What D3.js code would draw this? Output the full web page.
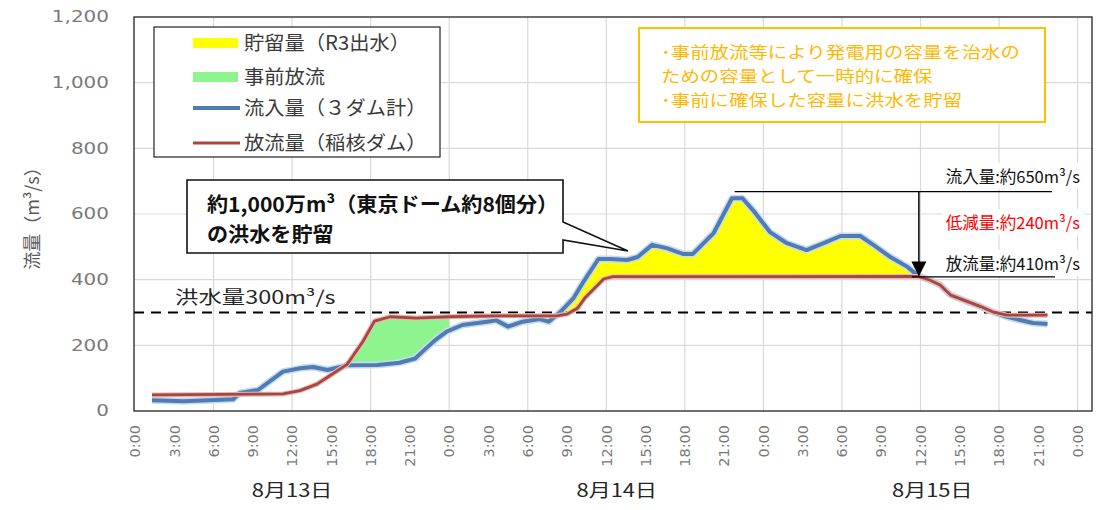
<!DOCTYPE html>
<html><head><meta charset="utf-8">
<script src="https://cdn.jsdelivr.net/npm/d3@7/dist/d3.min.js"></script>
<style>body{margin:0;background:#fff;} svg{display:block;}</style>
</head><body>
<svg id="chart" width="1100" height="510"></svg>
<script>
// ---------------- data ----------------
const yTicks = [0, 200, 400, 600, 800, 1000, 1200];
const xTickHours = [0,3,6,9,12,15,18,21,24,27,30,33,36,39,42,45,48,51,54,57,60,63,66,69,72];
const xTickLabels = ["0:00","3:00","6:00","9:00","12:00","15:00","18:00","21:00",
                     "0:00","3:00","6:00","9:00","12:00","15:00","18:00","21:00",
                     "0:00","3:00","6:00","9:00","12:00","15:00","18:00","21:00","0:00"];
const gridHours = [6,12,18,24,30,36,42,48,54,60,66,72];
const dayLabels = ["8月13日", "8月14日", "8月15日"];
const dayLabelHours = [12, 36.8, 60.9];

// [hour from 8/13 0:00, m3/s]
const inflow = [[1.3,33],[3.7,30],[7.5,36],[8.0,55],[9.4,64],[11.3,120],[12.6,130],[13.6,134],
  [14.7,125],[16.2,139],[18.5,140],[20.2,147],[21.4,160],[22.2,190],[22.9,215],[23.8,242],
  [25.0,262],[26.9,272],[27.6,276],[28.5,257],[29.6,272],[30.9,280],[31.6,272],[32.5,302],
  [33.5,344],[34.2,390],[35.4,463],[36.3,463],[37.6,460],[38.4,469],[39.5,506],[40.6,496],
  [41.9,478],[42.6,478],[44.2,542],[45.6,648],[46.4,648],[47.2,612],[48.5,545],[49.8,511],
  [51.3,490],[52.6,511],[53.9,533],[55.4,533],[56.4,506],[57.7,469],[59.0,439],[59.8,412],
  [60.7,399],[61.5,384],[62.3,353],[63.6,333],[64.6,318],[65.5,302],[66.6,287],[67.6,277],
  [68.6,268],[69.7,265]];
const outflow = [[1.3,49],[11.3,52],[12.6,62],[13.9,82],[14.9,108],[16.2,142],[17.4,211],
  [18.3,274],[19.5,287],[21.5,283],[23.9,287],[27.7,290],[32.2,290],[33.0,295],[33.8,313],
  [34.4,346],[35.8,402],[36.5,409],[59.8,410],[60.7,399],[61.5,384],[62.3,353],[63.6,333],
  [64.6,318],[65.5,302],[66.6,292],[69.7,292]];
const floodLevel = 300;
const prereleaseRange = [14, 24];   // hours
const storageRange = [30, 62];      // hours
const peakInflow = 650, peakOutflow = 410, peakHour = 59.8;

const legendLabels = ["貯留量（R3出水）", "事前放流", "流入量（３ダム計）", "放流量（稲核ダム）"];
const noteLines = ["･事前放流等により発電用の容量を治水の", "ための容量として一時的に確保", "･事前に確保した容量に洪水を貯留"];
const calloutLines = ["約1,000万m³（東京ドーム約8個分）", "の洪水を貯留"];
const annLabels = ["流入量:約650m³/s", "低減量:約240m³/s", "放流量:約410m³/s"];

// ---------------- setup ----------------
const svg = d3.select("#chart");
const JP = "'Noto Sans CJK JP','Noto Sans',sans-serif";
const x = d3.scaleLinear().domain([0, 73.1]).range([135, 1092]);
const y = d3.scaleLinear().domain([0, 1200]).range([411, 17]);
const plotL = 134, plotR = 1092, plotT = 17, plotB = 411;

function stretch(sel, k) {
  sel.each(function () {
    const w = this.getComputedTextLength();
    d3.select(this).attr("textLength", w * k).attr("lengthAdjust", "spacingAndGlyphs");
  });
}

const defs = svg.append("defs");

// gridlines
const grid = svg.append("g");
grid.selectAll("line.h").data(yTicks.filter(v => v > 0 && v < 1200)).join("line")
  .attr("x1", plotL).attr("x2", plotR).attr("y1", d => y(d)).attr("y2", d => y(d))
  .attr("stroke", "#d9d9d9").attr("stroke-width", 1.2);
grid.selectAll("line.v").data(gridHours).join("line")
  .attr("x1", d => x(d)).attr("x2", d => x(d)).attr("y1", plotT).attr("y2", plotB)
  .attr("stroke", "#d9d9d9").attr("stroke-width", 1.2);

// y axis labels
const yl = svg.append("g").selectAll("text").data(yTicks).join("text")
  .attr("x", 109).attr("y", d => y(d)).attr("dy", "0.36em")
  .attr("text-anchor", "end").attr("font-family", "'DejaVu Sans',sans-serif")
  .attr("font-size", 15).attr("fill", "#7a7a7a").text(d => d3.format(",")(d));
stretch(yl, 1.33);

// y title
svg.append("text").attr("transform", "translate(39,214) rotate(-90)")
  .attr("text-anchor", "middle").attr("font-family", JP).attr("font-size", 18)
  .attr("fill", "#595959").text("流量（m³/s）");

// x tick labels
svg.append("g").selectAll("text").data(xTickHours).join("text")
  .attr("transform", d => `translate(${x(d)},425) rotate(-90)`)
  .attr("dy", "0.36em").attr("text-anchor", "end")
  .attr("font-family", "'DejaVu Sans',sans-serif").attr("font-size", 14.5)
  .attr("fill", "#7a7a7a").text((d, i) => xTickLabels[i]);

// day labels
const dl = svg.append("g").selectAll("text").data(dayLabels).join("text")
  .attr("x", (d, i) => x(dayLabelHours[i])).attr("y", 497)
  .attr("text-anchor", "middle").attr("font-family", JP).attr("font-size", 18)
  .attr("fill", "#262626").text(d => d);
stretch(dl, 1.22);

// fills via clip paths
const areaTop = (data) => d3.area().x(d => x(d[0])).y0(y(1200)).y1(d => y(d[1]))(data);
const areaBottom = (data) => d3.area().x(d => x(d[0])).y0(y(0)).y1(d => y(d[1]))(data);

defs.append("clipPath").attr("id", "aboveRed").append("path").attr("d", areaTop(outflow));
defs.append("clipPath").attr("id", "aboveBlue").append("path").attr("d", areaTop(inflow));
defs.append("clipPath").attr("id", "storeRange").append("rect")
  .attr("x", x(storageRange[0])).attr("width", x(storageRange[1]) - x(storageRange[0]))
  .attr("y", plotT).attr("height", plotB - plotT);
defs.append("clipPath").attr("id", "preRange").append("rect")
  .attr("x", x(prereleaseRange[0])).attr("width", x(prereleaseRange[1]) - x(prereleaseRange[0]))
  .attr("y", plotT).attr("height", plotB - plotT);

svg.append("g").attr("clip-path", "url(#storeRange)")
  .append("path").attr("clip-path", "url(#aboveRed)")
  .attr("d", areaBottom(inflow)).attr("fill", "#ffff00");
svg.append("g").attr("clip-path", "url(#preRange)")
  .append("path").attr("clip-path", "url(#aboveBlue)")
  .attr("d", areaBottom(outflow)).attr("fill", "#8ef58e");

// flood level dashed line
svg.append("line").attr("x1", plotL).attr("x2", plotR)
  .attr("y1", y(floodLevel)).attr("y2", y(floodLevel))
  .attr("stroke", "#000").attr("stroke-width", 2).attr("stroke-dasharray", "10,7");
const fl = svg.append("text").attr("x", 175).attr("y", 304)
  .attr("font-family", JP).attr("font-size", 18).attr("fill", "#262626")
  .text("洪水量300m³/s");
stretch(fl, 1.3);

// lines
const line = d3.line().x(d => x(d[0])).y(d => y(d[1]));
svg.append("path").attr("d", line(inflow)).attr("fill", "none")
  .attr("stroke", "#c9dcef").attr("stroke-width", 7).attr("stroke-linejoin", "round");
svg.append("path").attr("d", line(inflow)).attr("fill", "none")
  .attr("stroke", "#4f7db3").attr("stroke-width", 4).attr("stroke-linejoin", "round");
svg.append("path").attr("d", line(outflow)).attr("fill", "none")
  .attr("stroke", "#e6b9b9").attr("stroke-width", 5).attr("stroke-linejoin", "round");
svg.append("path").attr("d", line(outflow)).attr("fill", "none")
  .attr("stroke", "#a8463f").attr("stroke-width", 2.8).attr("stroke-linejoin", "round");

// frame
svg.append("rect").attr("x", plotL).attr("y", plotT).attr("width", plotR - plotL)
  .attr("height", plotB - plotT).attr("fill", "none").attr("stroke", "#222").attr("stroke-width", 1.3);

// legend
const lg = svg.append("g");
lg.append("rect").attr("x", 154).attr("y", 27).attr("width", 286).attr("height", 130)
  .attr("fill", "#fff").attr("stroke", "#222").attr("stroke-width", 1.2);
const legY = [43, 77, 108, 143];
lg.append("rect").attr("x", 193).attr("y", legY[0] - 5).attr("width", 45).attr("height", 10).attr("fill", "#ffff00");
lg.append("rect").attr("x", 193).attr("y", legY[1] - 5).attr("width", 45).attr("height", 10).attr("fill", "#8ef58e");
lg.append("line").attr("x1", 193).attr("x2", 240).attr("y1", legY[2]).attr("y2", legY[2])
  .attr("stroke", "#4f7db3").attr("stroke-width", 4);
lg.append("line").attr("x1", 193).attr("x2", 240).attr("y1", legY[3]).attr("y2", legY[3])
  .attr("stroke", "#a8463f").attr("stroke-width", 3);
const lt = lg.selectAll("text").data(legendLabels).join("text")
  .attr("x", 244).attr("y", (d, i) => legY[i]).attr("dy", "0.36em")
  .attr("font-family", JP).attr("font-size", 19.5).attr("fill", "#3a3a3a").text(d => d);
stretch(lt, 1.04);

// note box
const nb = svg.append("g");
nb.append("rect").attr("x", 639).attr("y", 28).attr("width", 406).attr("height", 94)
  .attr("fill", "#fff").attr("stroke", "#ffc000").attr("stroke-width", 2);
const nt = nb.selectAll("text").data(noteLines).join("text")
  .attr("x", 661).attr("y", (d, i) => [52.5, 76.5, 100.5][i]).attr("dy", "0.36em")
  .attr("font-family", JP).attr("font-size", 16.2).attr("fill", "#ffb800").text(d => d);
stretch(nt, 1.2);

// callout
svg.append("path")
  .attr("d", "M187,180 H563 V222 L628,251 L563,240 V253 H187 Z")
  .attr("fill", "#fff").attr("stroke", "#111").attr("stroke-width", 1.6);
const ct = svg.selectAll("text.co").data(calloutLines).join("text").attr("class", "co")
  .attr("x", 207).attr("y", (d, i) => [205, 235][i]).attr("dy", "0.36em")
  .attr("font-family", JP).attr("font-size", 20.5).attr("font-weight", 700)
  .attr("fill", "#111").text(d => d);
stretch(ct, 1.03);

// peak annotation
const ann = svg.append("g");
ann.append("line").attr("x1", x(45.8)).attr("x2", 1052).attr("y1", y(peakInflow + 18)).attr("y2", y(peakInflow + 18))
  .attr("stroke", "#000").attr("stroke-width", 1.3);
ann.append("line").attr("x1", x(peakHour) - 6).attr("x2", 1055).attr("y1", y(peakOutflow) + 0.5).attr("y2", y(peakOutflow) + 0.5)
  .attr("stroke", "#000").attr("stroke-width", 1.3);
ann.append("line").attr("x1", x(peakHour) + 1).attr("x2", x(peakHour) + 1)
  .attr("y1", y(peakInflow + 18)).attr("y2", y(peakOutflow) - 12)
  .attr("stroke", "#000").attr("stroke-width", 1.5);
ann.append("path")
  .attr("d", `M${x(peakHour) + 1 - 7.5},${y(peakOutflow) - 15} L${x(peakHour) + 1 + 7.5},${y(peakOutflow) - 15} L${x(peakHour) + 1},${y(peakOutflow)} Z`)
  .attr("fill", "#000");
const annY = [177, 223, 264];
const annText = ann.selectAll("text").data(annLabels).join("text")
  .attr("x", 1080).attr("y", (d, i) => annY[i]).attr("dy", "0.36em")
  .attr("text-anchor", "end").attr("font-family", JP).attr("font-size", 16.5)
  .attr("fill", (d, i) => i === 1 ? "#ff0000" : "#111").text(d => d);
annText.each(function () {
  const b = this.getBBox();
  d3.select(this.parentNode).insert("rect", "text")
    .attr("x", b.x - 3).attr("y", b.y - 1).attr("width", b.width + 6).attr("height", b.height + 2)
    .attr("fill", "#fff");
});
</script>
</body></html>
